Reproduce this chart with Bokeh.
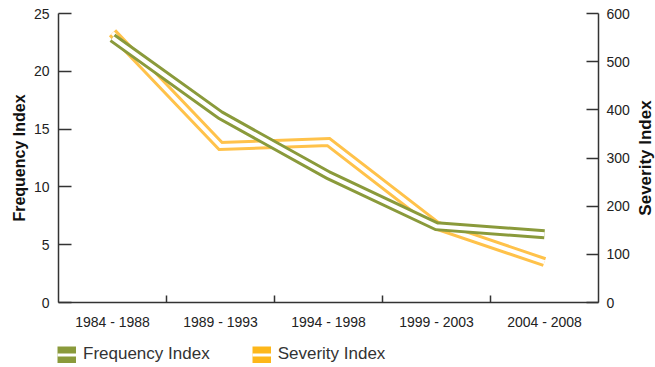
import math
import numpy as np
from bokeh.plotting import figure
from bokeh.models import (Range1d, LinearAxis, FixedTicker, Legend, LegendItem,
                          ColumnDataSource, Label)
from bokeh.embed import file_html
from bokeh.resources import INLINE

# Five-year periods and the two indices plotted against them
periods = ["1984 - 1988", "1989 - 1993", "1994 - 1998", "1999 - 2003", "2004 - 2008"]
frequency = [22.9, 16.2, 11.0, 6.6, 5.9]     # left axis
severity = [560, 325, 333, 160, 84]          # right axis

freq_ticks = [0, 5, 10, 15, 20, 25]
sev_ticks = [0, 100, 200, 300, 400, 500, 600]
freq_max, sev_max = 25, 600

GREEN = "#8A9A3B"
ORANGE_LINE = "#FFC24A"
ORANGE = "#FDB71A"
AXIS = "#333333"
FONT = "Liberation Sans"

W, H = 655, 367
LEFT, TOP = 58, 13
PLOT_W, PLOT_H = 540, 289          # pixel size of the charted area

# each period occupies one unit; points sit in the middle of their unit
n = len(periods)
centers = list(np.arange(n) + 0.5)
bounds = list(np.arange(1, n))

# the frame covers the whole canvas; ranges are widened so the chart keeps
# its scale and the axes are pinned at the data origin / last period
ux = n / PLOT_W                      # data units per pixel, horizontally
x_range = Range1d(-LEFT * ux, (W - LEFT) * ux)
below = (H - TOP - PLOT_H) / PLOT_H
above = TOP / PLOT_H
y_range = Range1d(-freq_max * below, freq_max * (1 + above))
sev_range = Range1d(-sev_max * below, sev_max * (1 + above))

src = ColumnDataSource(dict(x=centers, freq=frequency, sev=severity))

p = figure(width=W, height=H, output_backend="svg", toolbar_location=None,
           x_range=x_range, y_range=y_range, min_border=0)
p.extra_y_ranges = {"sev": sev_range}
p.outline_line_color = None
p.xgrid.visible = False
p.ygrid.visible = False
p.background_fill_color = "white"
p.border_fill_color = "white"


def style_axis(ax):
    ax.axis_line_color = AXIS
    ax.axis_line_width = 1.5
    ax.major_tick_line_color = AXIS
    ax.major_tick_line_width = 1.5
    ax.minor_tick_line_color = None
    ax.major_label_text_font = FONT
    ax.major_label_text_font_size = "14px"
    ax.major_label_text_color = "#222222"


# bottom axis at y = 0: labels under each period, tick marks between periods
xa = p.xaxis[0]
style_axis(xa)
xa.fixed_location = 0
xa.bounds = (0, n)
xa.ticker = FixedTicker(ticks=centers, minor_ticks=bounds)
xa.major_label_overrides = {c: lab for c, lab in zip(centers, periods)}
xa.major_tick_line_color = None
xa.minor_tick_line_color = AXIS
xa.minor_tick_line_width = 1.5
xa.minor_tick_in = 7
xa.minor_tick_out = 0
xa.major_label_standoff = 5

# left axis at x = 0: frequency
ya = p.yaxis[0]
style_axis(ya)
ya.fixed_location = 0
ya.bounds = (0, freq_max)
ya.ticker = FixedTicker(ticks=freq_ticks)
ya.major_tick_in = 13
ya.major_tick_out = 0
ya.major_label_standoff = 9

# right axis at the end of the last period: severity
ra = LinearAxis(y_range_name="sev", ticker=FixedTicker(ticks=sev_ticks))
style_axis(ra)
ra.fixed_location = n
ra.bounds = (0, sev_max)
ra.major_tick_in = 12
ra.major_tick_out = 0
ra.major_label_standoff = 8
p.add_layout(ra, "right")

# axis titles, rotated to read upwards
title_style = dict(angle=math.pi / 2, text_align="center", text_baseline="middle",
                   text_font=FONT, text_font_style="bold", text_color="#111111")
p.add_layout(Label(x=(19 - LEFT) * ux, y=freq_max / 2, text="Frequency Index",
                   text_font_size="16px", **title_style))
p.add_layout(Label(x=(645 - LEFT) * ux, y=sev_max / 2, y_range_name="sev",
                   text="Severity Index", text_font_size="17px", **title_style))

# double-stroke lines: a wide coloured stroke with a white core
p.line("x", "sev", source=src, y_range_name="sev", line_color=ORANGE_LINE,
       line_width=10, line_join="miter", line_cap="butt")
p.line("x", "sev", source=src, y_range_name="sev", line_color="white",
       line_width=4, line_join="miter", line_cap="butt")
p.line("x", "freq", source=src, line_color=GREEN,
       line_width=10, line_join="miter", line_cap="butt")
p.line("x", "freq", source=src, line_color="white",
       line_width=4, line_join="miter", line_cap="butt")

# legend swatches: hidden wider strokes over the same data
kw = dict(source=src, visible=False)
lg_g = p.line("x", "freq", line_color=GREEN, line_width=17, **kw)
lg_gw = p.line("x", "freq", line_color="white", line_width=3, **kw)
lg_o = p.line("x", "sev", y_range_name="sev", line_color=ORANGE, line_width=17, **kw)
lg_ow = p.line("x", "sev", y_range_name="sev", line_color="white", line_width=3, **kw)

legend = Legend(items=[LegendItem(label="Frequency Index", renderers=[lg_g, lg_gw]),
                       LegendItem(label="Severity Index", renderers=[lg_o, lg_ow])],
                location=(57, 3), orientation="horizontal",
                glyph_width=19, glyph_height=17, label_standoff=7, spacing=42,
                padding=0, margin=0, border_line_color=None,
                background_fill_alpha=0, inactive_fill_alpha=0, label_height=17,
                label_text_font=FONT, label_text_font_size="17px",
                label_text_color="#333333")
p.add_layout(legend)

open("out.html", "w").write(file_html(p, INLINE))
